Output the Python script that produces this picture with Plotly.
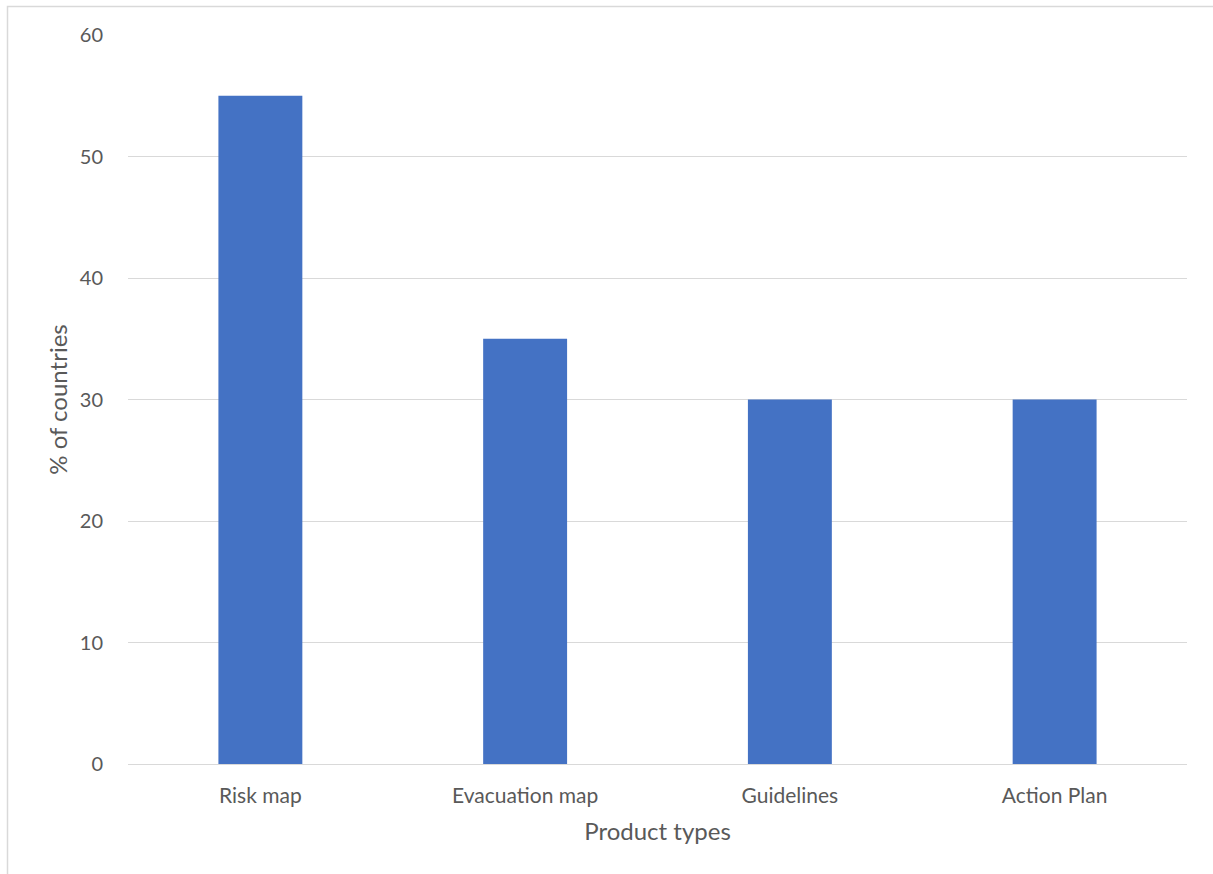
import plotly.graph_objects as go

categories = ["Risk map", "Evacuation map", "Guidelines", "Action Plan"]
values = [55, 35, 30, 30]
y_ticks = [0, 10, 20, 30, 40, 50, 60]

FONT = "Lato, 'Open Sans', sans-serif"
GREY = "#595959"

fig = go.Figure(go.Bar(x=categories, y=values, marker_color="#4472C4",
                       marker_line_width=0))

L, R, T, B = 128, 26, 35, 110
W, H = 1213, 874
pw = W - L - R
ph = H - T - B

fig.update_layout(
    width=W, height=H,
    margin=dict(l=L, r=R, t=T, b=B),
    plot_bgcolor="white", paper_bgcolor="white",
    bargap=0.683,
    showlegend=False,
    font=dict(family=FONT, color=GREY, size=21),
)
fig.update_xaxes(
    showgrid=False, showline=False, zeroline=False,
    ticks="outside", ticklen=13, tickcolor="rgba(0,0,0,0)",
    tickfont=dict(size=21, color=GREY),
    title=dict(text="Product types", font=dict(size=24, color=GREY), standoff=16),
)
fig.update_yaxes(
    range=[0, 60], tickvals=y_ticks, showgrid=True, gridcolor="#D9D9D9", gridwidth=1.3,
    zeroline=True, zerolinecolor="#D9D9D9", zerolinewidth=1.3, showline=False,
    ticks="outside", ticklen=20, tickcolor="rgba(0,0,0,0)",
    tickfont=dict(size=20, color=GREY),
    title=dict(text="% of countries", font=dict(size=24, color=GREY), standoff=5),
)

x0 = (7.5 - L) / pw
y1 = (H - B - 6.5) / ph
fig.add_shape(type="rect", xref="paper", yref="paper",
              x0=x0, x1=1.2, y0=-0.3, y1=y1,
              line=dict(color="#D9D9D9", width=1.5), fillcolor="rgba(0,0,0,0)",
              layer="below")

fig.write_html("out.html")
